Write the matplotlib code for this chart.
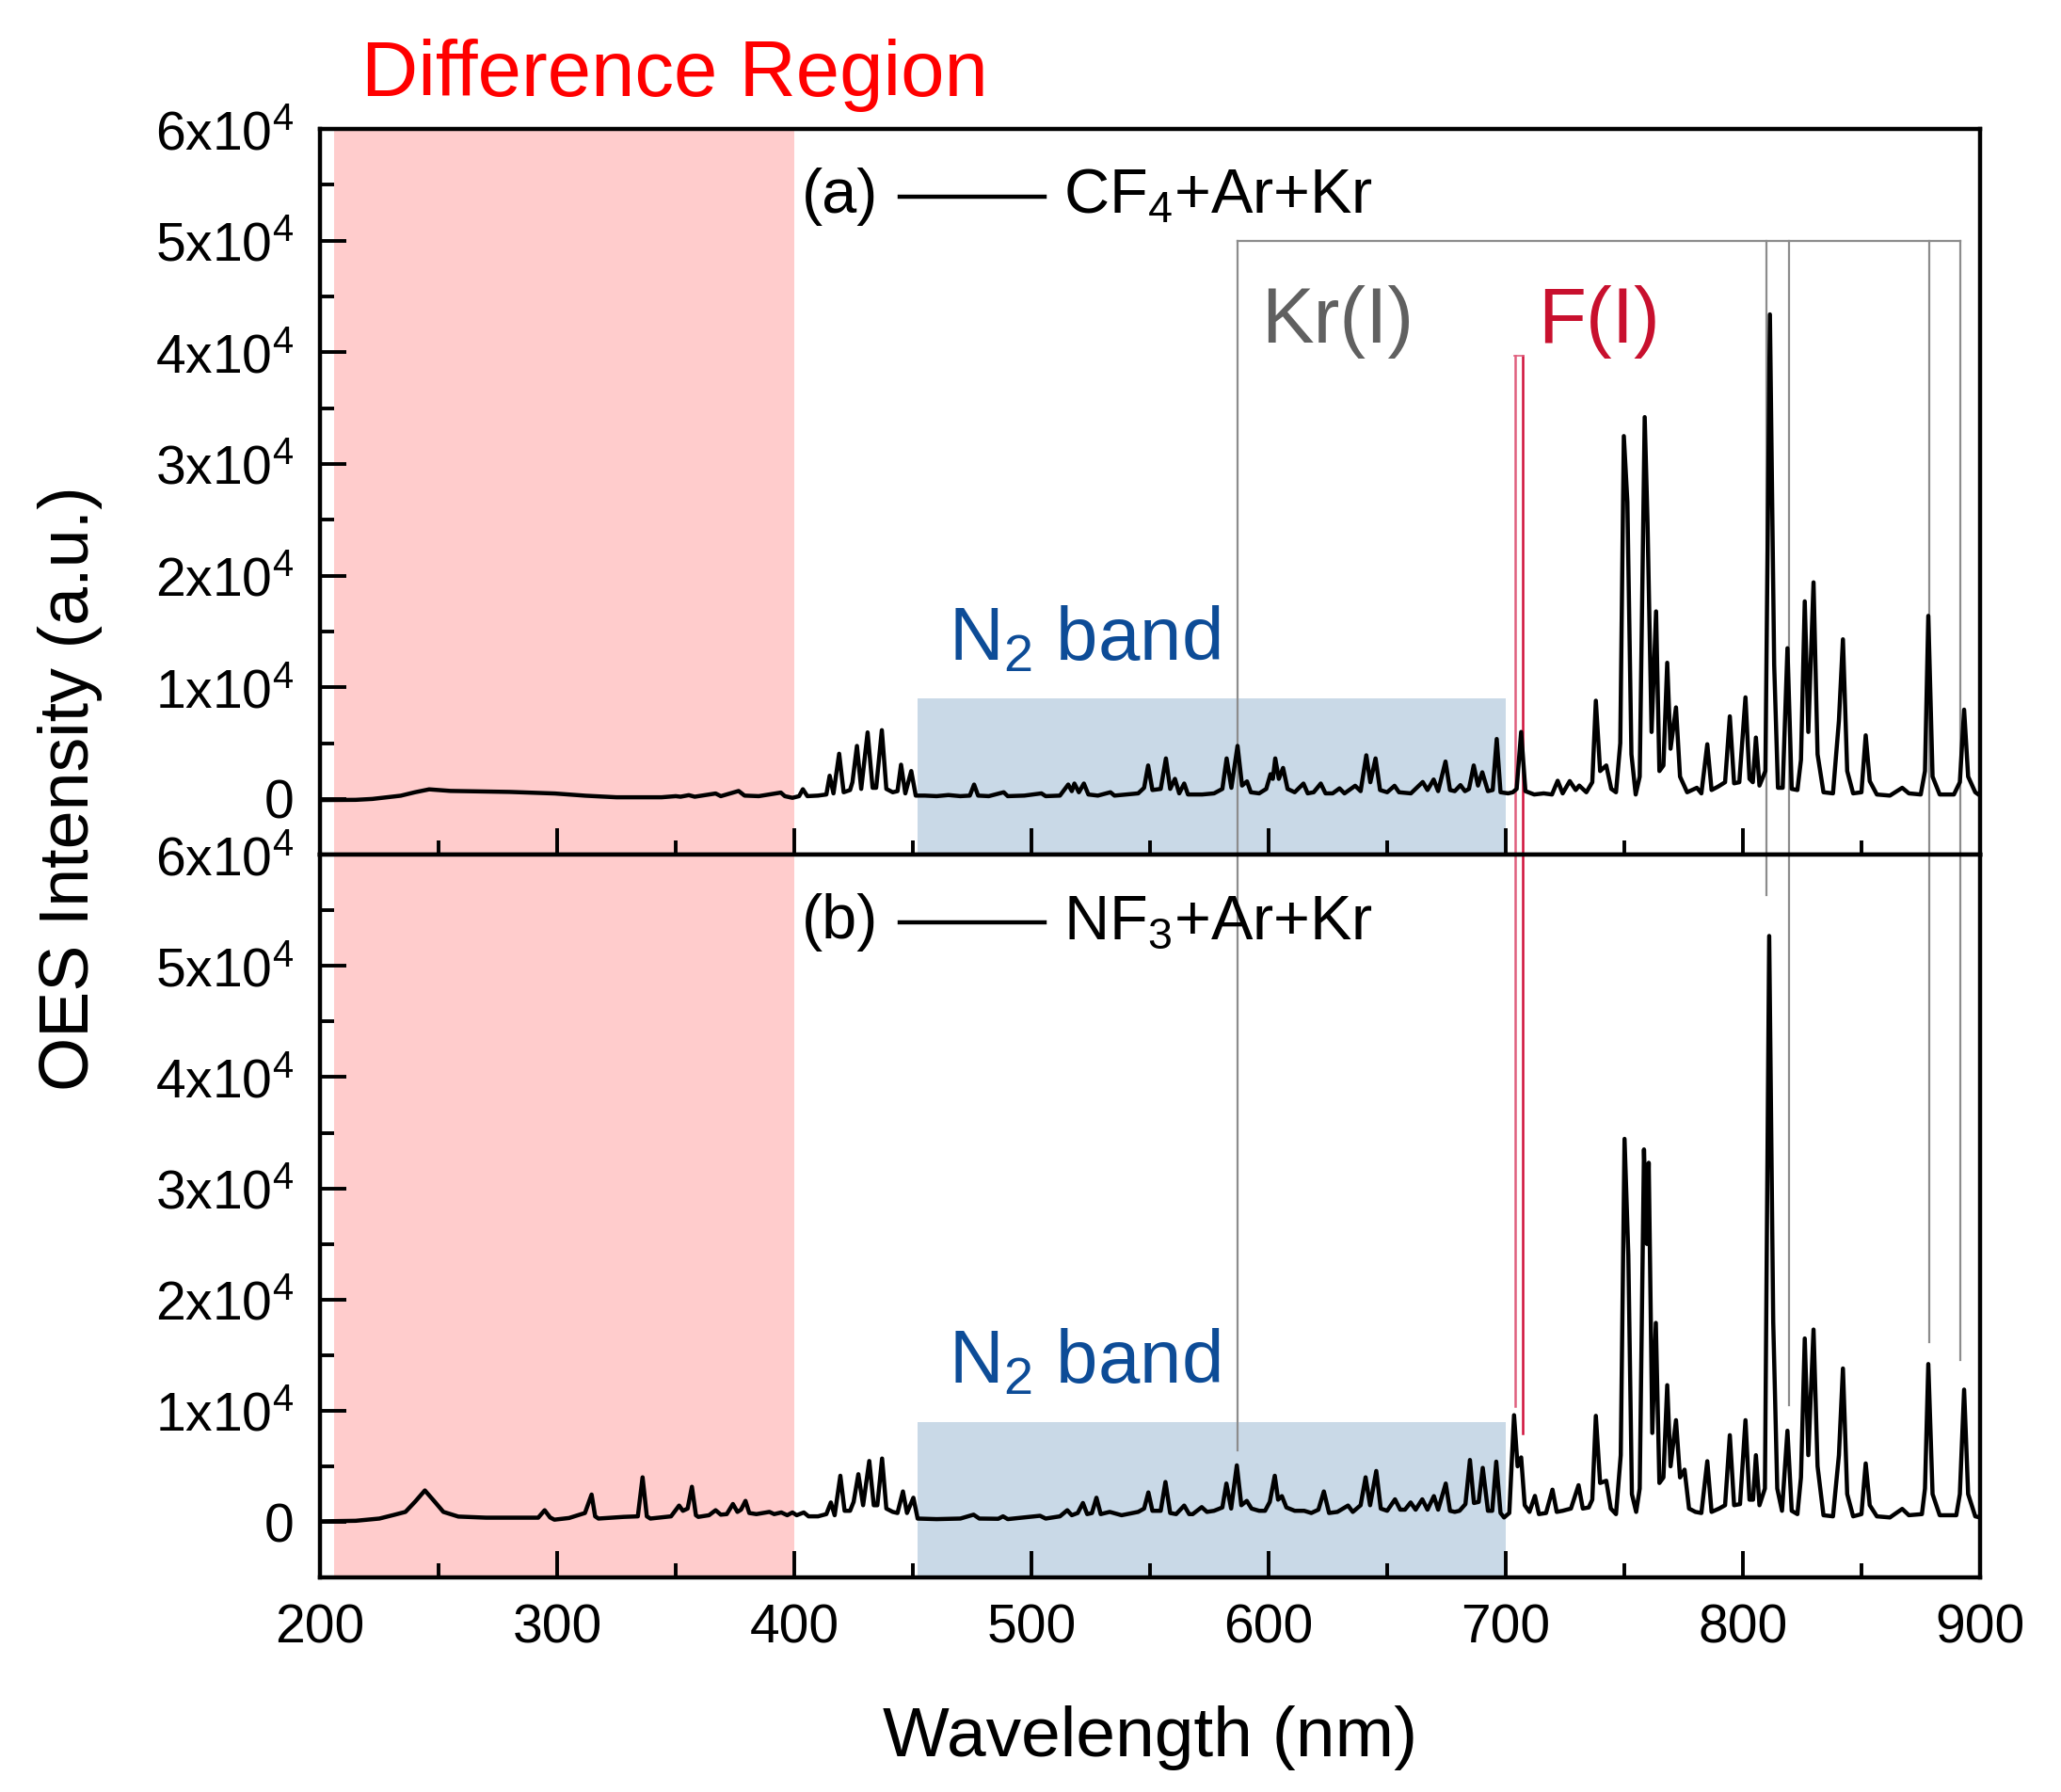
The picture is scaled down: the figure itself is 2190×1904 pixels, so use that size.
import matplotlib
matplotlib.use("Agg")
import matplotlib.pyplot as plt
from matplotlib.ticker import MultipleLocator, FixedLocator, FixedFormatter

plt.rcParams['font.family'] = ['Liberation Sans', 'DejaVu Sans']
plt.rcParams['mathtext.fontset'] = 'custom'
plt.rcParams['mathtext.rm'] = 'Liberation Sans'
plt.rcParams['mathtext.it'] = 'Liberation Sans'
plt.rcParams['mathtext.default'] = 'regular'

# spectrum (a) CF4+Ar+Kr : wavelength (nm) / intensity
wl_a = [200, 215, 222, 234, 240, 246, 255, 280, 299, 312, 325, 344, 350, 352, 355.5, 358,
        366.8, 369, 376.5, 379, 385, 394.3, 396, 399.2, 402, 403.6, 405.5, 410, 413.5, 414.9,
        416.5, 418.9, 420.8, 423.5, 424.5, 426.4, 428.2, 430.9, 433, 434.5, 436.9, 438.8, 441.5,
        443.5, 445.0, 446.8, 449.3, 451.2, 455, 460, 465, 470, 474, 475.8, 477.5, 482, 488.3,
        490, 497, 504.2, 506, 512, 515.5, 517, 518.1, 520, 522.1, 524, 528, 533.3, 535, 540,
        545, 547.5, 549.2, 551, 554.5, 556.7, 558.5, 560.5, 562.3, 564.4, 566, 572, 577, 580.5,
        582.3, 584.3, 586.9, 588.8, 590.9, 592.5, 596, 599, 600.8, 601.8, 602.8, 604.3, 606.1,
        608, 611, 614.7, 616.5, 619, 622, 624, 627, 629.9, 632, 636.5, 638.8, 641.2, 642.9,
        645.1, 647, 650, 653.1, 655, 660, 665, 667, 669.6, 671.5, 674.6, 676.5, 678.5, 680.9,
        682.8, 684.5, 686.5, 688.3, 690.1, 692.5, 694.5, 696.2, 697.8, 701, 703, 704.6, 706.5,
        708.3, 712, 716, 719.5, 721.9, 724, 727, 729.5, 731, 734, 736.5, 738.0, 739.8, 742.4,
        744.5, 746.5, 748.3, 749.8, 751.3, 753.0, 754.8, 756.5, 758.6, 759.8, 761.5, 763.4,
        764.8, 766.5, 768.1, 769.5, 771.8, 773.5, 776.5, 780.6, 782.5, 785.0, 786.8, 789.5,
        792.5, 794.5, 796.3, 798.5, 801.1, 802.8, 804.2, 805.5, 807, 809.5, 811.4, 813.2,
        814.8, 816.8, 818.8, 820.6, 823, 824.5, 826.1, 827.6, 829.8, 831.5, 834, 838, 840.5,
        842.2, 844, 846.5, 850, 851.8, 853.5, 856.5, 862, 867.2, 870, 875, 876.8, 878.2, 880,
        883, 889, 891.5, 893.3, 895, 898, 900]
int_a = [-100, -80, 0, 290, 600, 860, 720, 630, 490, 290, 150, 150, 250, 200, 340, 200,
         490, 250, 715, 300, 250, 570, 250, 100, 250, 870, 250, 300, 400, 2080,
         500, 4050, 600, 800, 1500, 4750, 900, 5960, 1000, 1000, 6160, 900, 600,
         700, 3070, 500, 2500, 300, 300, 250, 350, 250, 300, 1290, 300, 250, 600,
         250, 300, 500, 250, 300, 1290, 700, 1380, 600, 1380, 400, 300, 600, 300, 400,
         500, 1000, 3000, 800, 900, 3630, 900, 1800, 500, 1380, 400, 400, 500, 900,
         3630, 1000, 4750, 1200, 1575, 600, 500, 900, 2220, 1800, 3630, 1800, 2780,
         900, 600, 1380, 500, 600, 1380, 500, 500, 950, 500, 1180, 700, 3910, 1500,
         3630, 800, 600, 1180, 600, 500, 1520, 800, 1740, 700, 3350, 800, 700, 1240,
         700, 900, 3000, 1200, 2390, 700, 800, 5370, 600, 500, 600, 900, 6000,
         700, 400, 500, 400, 1630, 500, 1600, 800, 1200, 600, 1500, 8800, 2500, 3000,
         900, 600, 5000, 32500, 26600, 4000, 400, 2000, 34200, 24700, 6000, 16800,
         2500, 3000, 12200, 4500, 8200, 2000, 600, 1000, 500, 4900, 800, 1100,
         1500, 7400, 1400, 1500, 9100, 1800, 1500, 5500, 1200, 2500, 43400, 12000,
         1000, 1000, 13500, 900, 800, 3500, 17700, 6000, 19400, 4000, 600, 500, 7000,
         14300, 2500, 500, 600, 5700, 1600, 400, 300, 1000, 500, 400, 2500, 16400, 2000,
         400, 400, 1500, 8000, 2000, 600, 300]

# spectrum (b) NF3+Ar+Kr
wl_b = [200, 215, 225, 231, 236, 240, 244.2, 248, 252, 258.3, 270, 292, 294.7, 297, 298.8,
        305, 311.7, 314.5, 316, 317.4, 328, 334, 336, 337.8, 339.3, 348, 351.4, 353, 355,
        356.8, 358.5, 359.5, 364, 366.8, 369, 371.5, 374.1, 376, 377.5, 379.4, 381, 384,
        389.5, 391.5, 394.5, 397, 399.2, 401, 404, 406, 410, 413.5, 415.4, 417, 419.4, 421.2,
        423.5, 425, 427, 429, 431.6, 433.5, 435, 437, 438.8, 441.5, 443.5, 445.8, 447.5,
        450.2, 452, 460, 470, 475.6, 478, 486, 488, 490, 503.6, 506, 512, 515.1, 517, 519.5,
        521.7, 523.5, 525.5, 527.4, 529.2, 533, 538, 545, 547.5, 549.3, 551, 554.5, 556.5,
        558.5, 561, 564.4, 566.5, 568, 571.8, 574, 577, 580.5, 582.2, 584.2, 586.6, 588.5,
        590.8, 592.8, 596, 598.5, 600.5, 602.6, 604, 605.6, 607.5, 611, 615, 618, 621, 623.3,
        625.5, 629, 633.5, 635.5, 638.8, 640.9, 642.8, 645.4, 647.3, 650, 653.3, 655.5,
        657.5, 659.9, 662, 664.8, 667, 669.7, 671.5, 674.7, 676.5, 678.5, 680.5, 683, 684.9,
        686.6, 688.6, 690.3, 692.5, 694.3, 696.0, 697.8, 699.3, 701.5, 703.5, 705, 706.5,
        708, 710, 712.3, 714, 717, 719.7, 721.5, 724, 727.5, 730.7, 732.5, 735, 736.5, 738,
        739.8, 742.4, 744.3, 746.5, 748.5, 750.1, 751.7, 753.2, 755, 756.5, 758.3, 759.5,
        760.3, 761.8, 763.3, 764.8, 766.5, 768.1, 769.5, 771.8, 773.5, 775.4, 777.3, 780,
        782.5, 785, 786.8, 790, 792.5, 794.5, 796.3, 798.8, 801.1, 802.8, 804.3, 805.5, 807,
        809.3, 811.1, 812.8, 814.5, 816.5, 818.8, 820.6, 823, 824.5, 826.1, 827.6, 829.8,
        831.5, 834, 838, 840.5, 842.2, 844, 846.5, 850, 851.8, 853.5, 856.5, 862, 867.2, 870,
        875.5, 876.8, 878.2, 880, 883, 890, 891.5, 893.3, 895, 898, 900]
int_b = [50, 100, 300, 620, 900, 1800, 2830, 1900, 900, 480, 380, 380, 1050, 400, 200,
         350, 800, 2460, 500, 300, 450, 500, 4010, 500, 300, 500, 1470, 1000, 1200,
         3160, 600, 450, 600, 1050, 650, 700, 1610, 900, 1100, 1890, 800, 700,
         900, 700, 850, 600, 850, 600, 850, 500, 500, 700, 1750, 600, 4150, 1000,
         1000, 1800, 4290, 1500, 5480, 1500, 1500, 5700, 1200, 900, 800, 2740, 800,
         2175, 300, 250, 300, 650, 300, 280, 500, 250, 550, 300, 500, 1050, 600, 800,
         1700, 700, 800, 2175, 700, 900, 600, 900, 1200, 2650, 1000, 1000, 3590,
         800, 700, 1470, 700, 700, 1330, 900, 1000, 1300, 3450, 1200, 5085, 1500,
         1890, 1200, 1000, 1000, 1800, 4150, 2000, 2320, 1300, 1000, 1000, 800, 1100, 2740,
         800, 900, 1470, 900, 1500, 4010, 1500, 4580, 1200, 1000, 2030, 1100,
         1100, 1750, 1100, 2030, 1100, 2320, 1100, 3450, 1000, 900, 1000, 1600, 5570,
         1700, 1800, 4860, 1000, 1000, 5420, 800, 400, 800, 9600, 5000, 5800,
         1500, 900, 2340, 700, 800, 2900, 900, 1000, 1200, 3300, 1200, 1300, 2000, 9540,
         3500, 3700, 1200, 700, 6000, 34450, 24000, 2500, 900, 3000, 33500, 25000,
         32300, 8000, 17900, 3500, 4000, 12300, 5000, 9150, 4000, 4700, 1200, 900,
         800, 5460, 900, 1200, 1500, 7800, 1500, 1600, 9150, 2000, 2000, 6000, 1500,
         3000, 52700, 18000, 3000, 1000, 8200, 1000, 700, 4000, 16500, 6000, 17300,
         5000, 600, 500, 6000, 13800, 2500, 500, 700, 5260, 1500, 500, 400, 1170, 600,
         700, 3000, 14200, 2500, 600, 600, 2500, 11900, 2500, 500, 400]

# Kr(I) marker lines: wavelength, end value in panel (b)
kr_lines = [587, 810, 819.5, 878.5, 891.5]
kr_end_b = [6400, 56400, 10500, 16200, 14600]
kr_top_a = 50000
# F(I) marker lines
f_lines = [704.0, 707.2]
f_end_b = [10400, 8000]
f_top_a = 39700
f_colors = ['#e0607e', '#d0103a']

diff_region = (206, 400)
n2_region = (452, 700)
n2_top = 9000

y_major = [0, 10000, 20000, 30000, 40000, 50000, 60000]
y_labels = ['0'] + [f'{k}x10$^4$' for k in range(1, 7)]
x_major = [200, 300, 400, 500, 600, 700, 800, 900]

fig = plt.figure(figsize=(21.9, 19.04), dpi=100)
ax_a = fig.add_axes([0.1553, 0.523, 0.8054, 0.405])
ax_b = fig.add_axes([0.1553, 0.1197, 0.8054, 0.4033])

labels = [('(a)', 'CF$_4$+Ar+Kr'), ('(b)', 'NF$_3$+Ar+Kr')]
for ax, wl, val, (tag, gas) in zip([ax_a, ax_b], [wl_a, wl_b], [int_a, int_b], labels):
    ax.set_xlim(200, 900)
    ax.set_ylim(-5000, 60000)
    ax.axvspan(*diff_region, color='#ffcccc', lw=0, zorder=0)
    ax.fill_between(n2_region, -5000, n2_top, color='#c9d9e7', lw=0, zorder=0.5)
    ax.plot(wl, val, color='black', lw=3.2, zorder=3)

    ax.yaxis.set_major_locator(FixedLocator(y_major))
    ax.yaxis.set_major_formatter(FixedFormatter(y_labels))
    ax.yaxis.set_minor_locator(MultipleLocator(5000))
    ax.xaxis.set_major_locator(FixedLocator(x_major))
    ax.xaxis.set_minor_locator(MultipleLocator(50))
    ax.tick_params(which='both', direction='in', top=False, right=False, width=2.8)
    ax.tick_params(which='major', length=20, labelsize=41)
    ax.tick_params(which='minor', length=11)
    ax.tick_params(axis='y', pad=20)
    ax.tick_params(axis='x', pad=20)
    for sp in ax.spines.values():
        sp.set_linewidth(3.2)

    ax.text(403, 53900, tag, fontsize=48, va='center', ha='left')
    ax.plot([444.4, 505.5], [53900, 53900], color='black', lw=3.2)
    ax.text(513.5, 53900, gas, fontsize=48, va='center', ha='left')
    ax.text(465, 14200, 'N$_2$ band', fontsize=57.5, color='#0d4c97', va='center', ha='left')

ax_a.tick_params(axis='x', labelbottom=False)

# Kr(I) bracket
ax_a.plot([kr_lines[0], kr_lines[-1]], [kr_top_a, kr_top_a], color='#8c8c8c', lw=1.6, zorder=2)
for x, yb in zip(kr_lines, kr_end_b):
    ax_a.plot([x, x], [kr_top_a, -5000], color='#8c8c8c', lw=1.6, zorder=2)
    ax_b.plot([x, x], [60000, yb], color='#8c8c8c', lw=1.6, zorder=2)
# F(I) lines
for x, yb, c in zip(f_lines, f_end_b, f_colors):
    ax_a.plot([x, x], [f_top_a, -5000], color=c, lw=1.8, zorder=2)
    ax_b.plot([x, x], [60000, yb], color=c, lw=1.8, zorder=2)
ax_a.plot([703.6, 707.6], [f_top_a, f_top_a], color='#e0607e', lw=1.2, zorder=2)

ax_a.text(597, 42700, 'Kr(I)', fontsize=60, color='#606060', va='center', ha='left')
ax_a.text(713.5, 42700, 'F(I)', fontsize=60, color='#c8102e', va='center', ha='left')

fig.text(0.3275, 0.9465, 'Difference Region', fontsize=60, color='#ff0000',
         ha='center', va='baseline')
fig.text(0.034, 0.56, 'OES Intensity (a.u.)', fontsize=53, rotation=90,
         ha='center', va='center')
fig.text(0.558, 0.02, 'Wavelength (nm)', fontsize=54, ha='center', va='baseline')

fig.savefig('out.png', dpi=100)
